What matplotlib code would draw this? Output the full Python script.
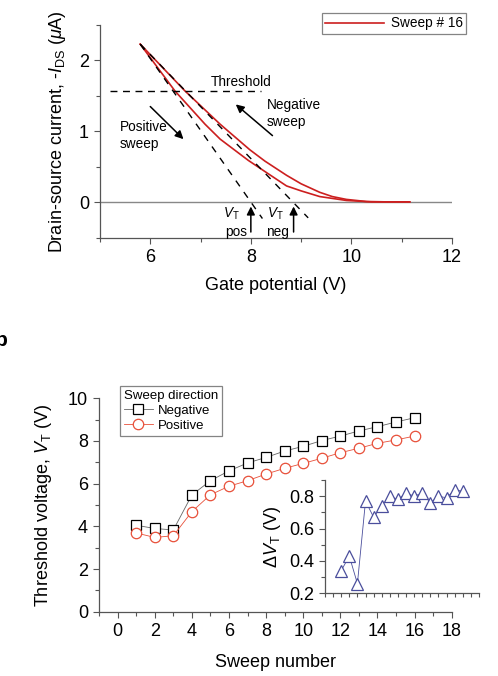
import numpy as np
import matplotlib
matplotlib.use('Agg')
import matplotlib.pyplot as plt
from matplotlib.ticker import MultipleLocator, NullFormatter

plt.rcParams['font.family'] = ['Liberation Sans', 'DejaVu Sans']
plt.rcParams['mathtext.fontset'] = 'custom'
plt.rcParams['mathtext.rm'] = 'Liberation Sans'
plt.rcParams['mathtext.it'] = 'Liberation Sans:italic'
plt.rcParams['mathtext.bf'] = 'Liberation Sans:bold'

# ------------------------------------------------------------------
# Data: panel a (transfer curve, sweep #16)
# ------------------------------------------------------------------
upper_vg = [5.80, 6.69, 7.39, 7.98, 8.28, 8.71, 9.00, 9.37, 9.62, 9.90, 10.30, 10.70, 11.16]
upper_id = [2.23, 1.57, 1.10, 0.74, 0.58, 0.38, 0.26, 0.14, 0.08, 0.04, 0.01, 0.005, 0.005]
lower_vg = [5.80, 6.49, 7.09, 7.39, 7.95, 8.35, 8.71, 9.00, 9.37, 9.90, 10.40, 11.16]
lower_id = [2.23, 1.57, 1.10, 0.89, 0.59, 0.40, 0.23, 0.16, 0.08, 0.025, 0.005, 0.005]

tangent_pos_vg = [5.80, 8.23]
tangent_pos_id = [2.23, -0.23]
tangent_neg_vg = [5.80, 9.14]
tangent_neg_id = [2.23, -0.22]
threshold_id = 1.57
threshold_span = [5.2, 8.2]
vt_pos, vt_neg = 8.0, 8.85

# ------------------------------------------------------------------
# Data: panel b (threshold voltage vs sweep number)
# ------------------------------------------------------------------
sweeps = list(range(1, 17))
vt_negative = [4.05, 3.90, 3.83, 5.47, 6.14, 6.60, 6.97, 7.23, 7.53, 7.75,
               8.02, 8.23, 8.47, 8.67, 8.89, 9.09]
vt_positive = [3.69, 3.48, 3.56, 4.69, 5.48, 5.88, 6.14, 6.45, 6.72, 6.95,
               7.19, 7.45, 7.66, 7.89, 8.05, 8.23]
delta_vt = [0.34, 0.43, 0.26, 0.77, 0.67, 0.74, 0.80, 0.78, 0.82, 0.80,
            0.82, 0.76, 0.80, 0.79, 0.84, 0.83]

RED = '#cc1f1f'
ORANGE = '#e8503a'
BLUE = '#4a4e9c'
SPINE = '#555555'

fig = plt.figure(figsize=(4.98, 6.76), dpi=100)

def style_axes(ax):
    for side in ('top', 'right'):
        ax.spines[side].set_visible(False)
    for side in ('left', 'bottom'):
        ax.spines[side].set_color(SPINE)
        ax.spines[side].set_linewidth(0.9)
    ax.tick_params(which='both', direction='out', color=SPINE, width=0.8)
    ax.tick_params(which='major', length=4.5)
    ax.tick_params(which='minor', length=3)

# ---------------------------- panel a -----------------------------
ax1 = fig.add_axes([0.2008, 0.6484, 0.7068, 0.3146])
style_axes(ax1)
ax1.axhline(0, color='#888888', lw=1.0, zorder=1)
ax1.plot(upper_vg, upper_id, color=RED, lw=1.2, label='Sweep # 16', zorder=2)
ax1.plot(lower_vg, lower_id, color=RED, lw=1.2, zorder=2)
ax1.plot(tangent_pos_vg, tangent_pos_id, color='black', lw=1.0, ls=(0, (5, 5)), zorder=3)
ax1.plot(tangent_neg_vg, tangent_neg_id, color='black', lw=1.0, ls=(0, (5, 5)), zorder=3)
ax1.plot(threshold_span, [threshold_id, threshold_id], color='black', lw=1.0,
         ls=(0, (5, 4)), zorder=3)

arrow = dict(arrowstyle='-|>', color='black', lw=1.1, mutation_scale=12,
             shrinkA=0, shrinkB=0)
ax1.annotate('', xy=(6.66, 0.89), xytext=(6.0, 1.35), arrowprops=arrow)
ax1.annotate('', xy=(7.70, 1.38), xytext=(8.43, 0.94), arrowprops=arrow)
ax1.annotate('', xy=(vt_pos, -0.06), xytext=(vt_pos, -0.42), arrowprops=arrow)
ax1.annotate('', xy=(vt_neg, -0.06), xytext=(vt_neg, -0.42), arrowprops=arrow)

ax1.text(7.2, 1.69, 'Threshold', fontsize=9.8, ha='left', va='center')
ax1.text(5.4, 0.94, 'Positive\nsweep', fontsize=9.8, ha='left', va='center',
         linespacing=1.3)
ax1.text(8.31, 1.25, 'Negative\nsweep', fontsize=9.8, ha='left', va='center',
         linespacing=1.3)
ax1.text(7.62, -0.16, r'$V_{\rm T}$', fontsize=9.8, ha='center', va='center')
ax1.text(7.70, -0.42, 'pos', fontsize=9.8, ha='center', va='center')
ax1.text(8.49, -0.16, r'$V_{\rm T}$', fontsize=9.8, ha='center', va='center')
ax1.text(8.52, -0.42, 'neg', fontsize=9.8, ha='center', va='center')

ax1.set_xlim(5, 12)
ax1.set_ylim(-0.5, 2.5)
ax1.xaxis.set_major_locator(MultipleLocator(2))
ax1.xaxis.set_minor_locator(MultipleLocator(1))
ax1.set_xticks([6, 8, 10, 12])
ax1.yaxis.set_major_locator(MultipleLocator(1))
ax1.yaxis.set_minor_locator(MultipleLocator(0.5))
ax1.set_yticks([0, 1, 2])
ax1.tick_params(labelsize=13)
ax1.set_xlabel('Gate potential (V)', fontsize=13, labelpad=8)
ax1.set_ylabel(r'Drain-source current, -$I_{\rm DS}$ ($\mu$A)', fontsize=13, labelpad=8)

leg1 = ax1.legend(loc='upper right', bbox_to_anchor=(0.9357, 0.9808),
                  bbox_transform=fig.transFigure, fontsize=9.8, frameon=True,
                  fancybox=False, edgecolor='#666666', handlelength=4.3,
                  borderpad=0.25, handletextpad=0.5, borderaxespad=0)
leg1.get_frame().set_linewidth(0.9)

fig.text(-0.010, 0.497, 'b', fontsize=15, fontweight='bold', ha='left', va='center')

# ---------------------------- panel b -----------------------------
ax2 = fig.add_axes([0.199, 0.0951, 0.708, 0.3157])
style_axes(ax2)
ax2.plot(sweeps, vt_negative, color='#666666', lw=0.6, marker='s', ms=7,
         mfc='white', mec='black', mew=0.9, label='Negative')
ax2.plot(sweeps, vt_positive, color=ORANGE, lw=0.6, marker='o', ms=7.5,
         mfc='white', mec=ORANGE, mew=0.9, label='Positive')
ax2.set_xlim(-1, 18)
ax2.set_ylim(0, 10)
ax2.xaxis.set_major_locator(MultipleLocator(2))
ax2.xaxis.set_minor_locator(MultipleLocator(1))
ax2.yaxis.set_major_locator(MultipleLocator(2))
ax2.yaxis.set_minor_locator(MultipleLocator(1))
ax2.tick_params(labelsize=13)
ax2.set_xlabel('Sweep number', fontsize=13, labelpad=10)
ax2.set_ylabel(r'Threshold voltage, $V_{\rm T}$ (V)', fontsize=13, labelpad=10)

leg2 = ax2.legend(loc='upper left', bbox_to_anchor=(0.241, 0.429),
                  bbox_transform=fig.transFigure, title='Sweep direction',
                  fontsize=9.5, title_fontsize=9.5, frameon=True, fancybox=False,
                  edgecolor='#666666', handlelength=2.2, borderpad=0.3,
                  labelspacing=0.2, handletextpad=0.4, borderaxespad=0)
leg2._legend_box.align = 'left'
leg2.get_frame().set_linewidth(0.9)

# inset: threshold hysteresis
ax3 = fig.add_axes([0.6526, 0.1223, 0.3092, 0.1676])
ax3.patch.set_alpha(0)
style_axes(ax3)
ax3.plot(sweeps, delta_vt, color=BLUE, lw=0.6, marker='^', ms=8,
         mfc='white', mec=BLUE, mew=0.9)
ax3.set_xlim(-1, 18)
ax3.set_ylim(0.2, 0.9)
ax3.xaxis.set_major_locator(MultipleLocator(1))
ax3.xaxis.set_major_formatter(NullFormatter())
ax3.yaxis.set_major_locator(MultipleLocator(0.2))
ax3.yaxis.set_minor_locator(MultipleLocator(0.1))
ax3.set_yticks([0.2, 0.4, 0.6, 0.8])
ax3.tick_params(labelsize=13)
ax3.tick_params(axis='x', length=3)
ax3.set_ylabel(r'$\Delta V_{\rm T}$ (V)', fontsize=13, labelpad=4)

plt.savefig('out.png', dpi=100)
